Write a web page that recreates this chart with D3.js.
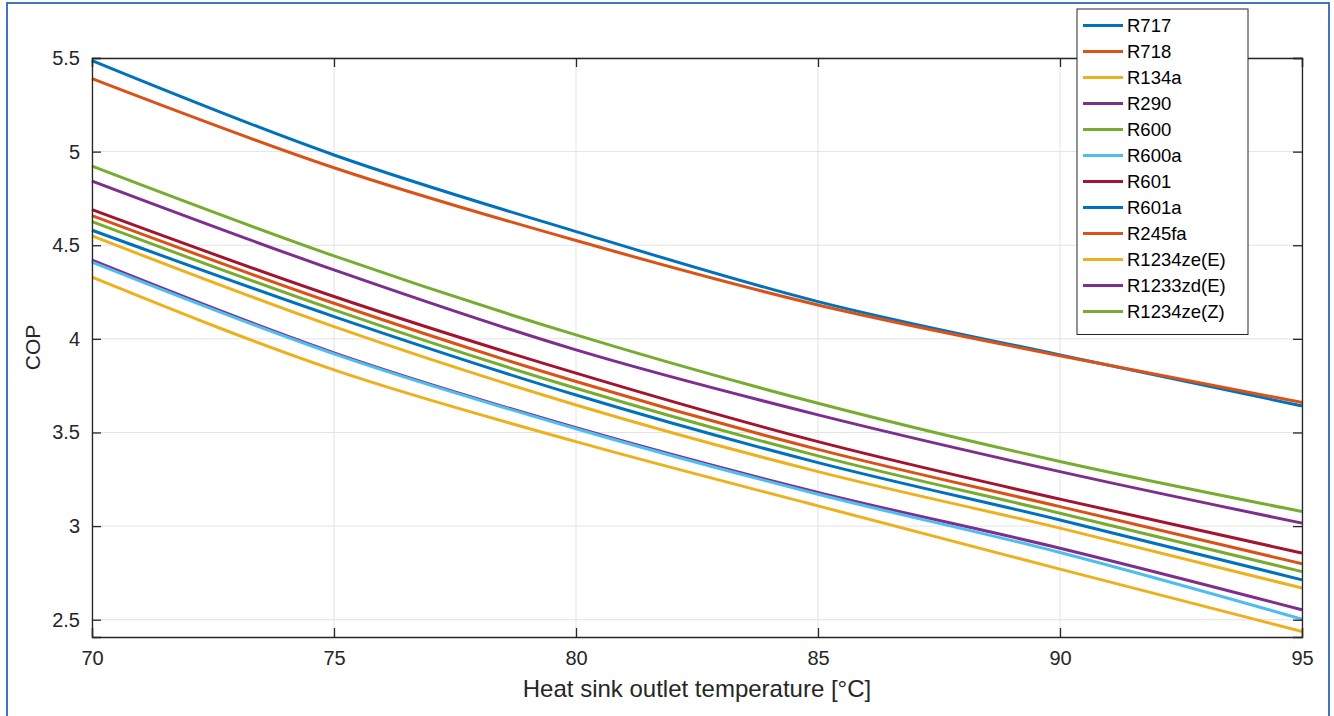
<!DOCTYPE html>
<html>
<head>
<meta charset="utf-8">
<script src="https://cdn.jsdelivr.net/npm/d3@7"></script>
<style>
  html, body { margin: 0; padding: 0; background: #fff; }
  svg { display: block; font-family: "Liberation Sans", Arial, Helvetica, sans-serif; }
</style>
</head>
<body>
<svg id="chart" width="1334" height="716"></svg>
<script>
// Heat sink outlet temperature [°C]
const temperatures = [70, 75, 80, 85, 90, 95];

// Refrigerant names, in plotting order
const refrigerants = ["R717", "R718", "R134a", "R290", "R600", "R600a",
                      "R601", "R601a", "R245fa", "R1234ze(E)", "R1233zd(E)", "R1234ze(Z)"];

// COP of each refrigerant at the temperatures above
const copR717      = [5.486, 4.982, 4.573, 4.199, 3.914, 3.642];
const copR718      = [5.390, 4.914, 4.525, 4.181, 3.910, 3.660];
const copR134a     = [4.330, 3.834, 3.451, 3.108, 2.770, 2.437];
const copR290      = [4.420, 3.925, 3.525, 3.180, 2.882, 2.553];
const copR600      = [4.626, 4.155, 3.736, 3.375, 3.069, 2.757];
const copR600a     = [4.410, 3.920, 3.520, 3.170, 2.859, 2.503];
const copR601      = [4.690, 4.226, 3.817, 3.451, 3.144, 2.856];
const copR601a     = [4.580, 4.119, 3.700, 3.339, 3.033, 2.713];
const copR245fa    = [4.658, 4.190, 3.772, 3.410, 3.104, 2.799];
const copR1234zeE  = [4.550, 4.065, 3.647, 3.291, 2.989, 2.669];
const copR1233zdE  = [4.843, 4.368, 3.941, 3.594, 3.291, 3.016];
const copR1234zeZ  = [4.923, 4.443, 4.021, 3.656, 3.345, 3.078];

const copSeries = [copR717, copR718, copR134a, copR290, copR600, copR600a,
                   copR601, copR601a, copR245fa, copR1234zeE, copR1233zdE, copR1234zeZ];

// Axis ticks
const xTicks = [70, 75, 80, 85, 90, 95];
const yTicks = [2.5, 3, 3.5, 4, 4.5, 5, 5.5];

// Default line colour order, cycling after seven
const palette = ["#0072BD", "#D95319", "#EDB120", "#7E2F8E", "#77AC30", "#4DBEEE", "#A2142F"];

const svg = d3.select("#chart");
const plot = { left: 92, right: 1302, top: 58, bottom: 637 };

const x = d3.scaleLinear().domain([70, 95]).range([plot.left, plot.right]);
const y = d3.scaleLinear().domain([2.4077, 5.5]).range([plot.bottom, plot.top]);

const axisColor = "#262626";
const tickLen = 9;

// outer frame
svg.append("rect")
  .attr("x", 7).attr("y", 3)
  .attr("width", 1322).attr("height", 760)
  .attr("fill", "none").attr("stroke", "#4472C4").attr("stroke-width", 2);

// grid lines
const grid = svg.append("g");
grid.selectAll(".gx").data(xTicks).join("line")
  .attr("x1", d => x(d)).attr("x2", d => x(d))
  .attr("y1", plot.top).attr("y2", plot.bottom)
  .attr("stroke", "#e3e3e3").attr("stroke-width", 1);
grid.selectAll(".gy").data(yTicks).join("line")
  .attr("x1", plot.left).attr("x2", plot.right)
  .attr("y1", d => y(d)).attr("y2", d => y(d))
  .attr("stroke", "#e3e3e3").attr("stroke-width", 1);

// data lines
const line = d3.line()
  .x((d, i) => x(temperatures[i]))
  .y(d => y(d))
  .curve(d3.curveMonotoneX);

svg.append("g").selectAll("path").data(copSeries).join("path")
  .attr("d", d => line(d))
  .attr("fill", "none")
  .attr("stroke", (d, i) => palette[i % palette.length])
  .attr("stroke-width", 3)
  .attr("stroke-linejoin", "round");

// axes: ticks pointing inward, on all four sides
const axB = d3.axisBottom(x).tickValues(xTicks).tickSize(-tickLen).tickPadding(14).tickFormat(d3.format("d"));
const axT = d3.axisTop(x).tickValues(xTicks).tickSize(-tickLen).tickFormat("");
const axL = d3.axisLeft(y).tickValues(yTicks).tickSize(-tickLen).tickPadding(12).tickFormat(d => d3.format("")(d));
const axR = d3.axisRight(y).tickValues(yTicks).tickSize(-tickLen).tickFormat("");

function styleAxis(g) {
  g.select(".domain").attr("stroke", axisColor).attr("stroke-width", 1.3);
  g.selectAll(".tick line").attr("stroke", axisColor).attr("stroke-width", 1.3);
  g.selectAll(".tick text").attr("fill", axisColor).attr("font-size", 20)
    .attr("font-family", "'Liberation Sans', Arial, sans-serif");
}

svg.append("g").attr("transform", `translate(0,${plot.bottom})`).call(axB).call(styleAxis);
svg.append("g").attr("transform", `translate(0,${plot.top})`).call(axT).call(styleAxis);
svg.append("g").attr("transform", `translate(${plot.left},0)`).call(axL).call(styleAxis);
svg.append("g").attr("transform", `translate(${plot.right},0)`).call(axR).call(styleAxis);

// axis titles
svg.append("text")
  .attr("x", 697).attr("y", 697)
  .attr("text-anchor", "middle").attr("fill", axisColor).attr("font-size", 24)
  .text("Heat sink outlet temperature [°C]");

svg.append("text")
  .attr("transform", `translate(40,${(plot.top + plot.bottom) / 2}) rotate(-90)`)
  .attr("text-anchor", "middle").attr("fill", axisColor).attr("font-size", 21)
  .text("COP");

// legend
const lg = { x: 1077, y: 9, w: 171, rowH: 26, firstRow: 25.5 };
const legend = svg.append("g");
legend.append("rect")
  .attr("x", lg.x).attr("y", lg.y)
  .attr("width", lg.w).attr("height", lg.firstRow - lg.y + lg.rowH * (refrigerants.length - 1) + 23)
  .attr("fill", "#fff").attr("stroke", axisColor).attr("stroke-width", 1);

const rows = legend.selectAll(".row").data(refrigerants).join("g")
  .attr("transform", (d, i) => `translate(0,${lg.firstRow + i * lg.rowH})`);
rows.append("line")
  .attr("x1", lg.x + 6).attr("x2", lg.x + 46)
  .attr("stroke", (d, i) => palette[i % palette.length]).attr("stroke-width", 3);
rows.append("text")
  .attr("x", lg.x + 50).attr("dy", "0.36em")
  .attr("fill", "#000").attr("font-size", 18.5)
  .text(d => d);
</script>
</body>
</html>
